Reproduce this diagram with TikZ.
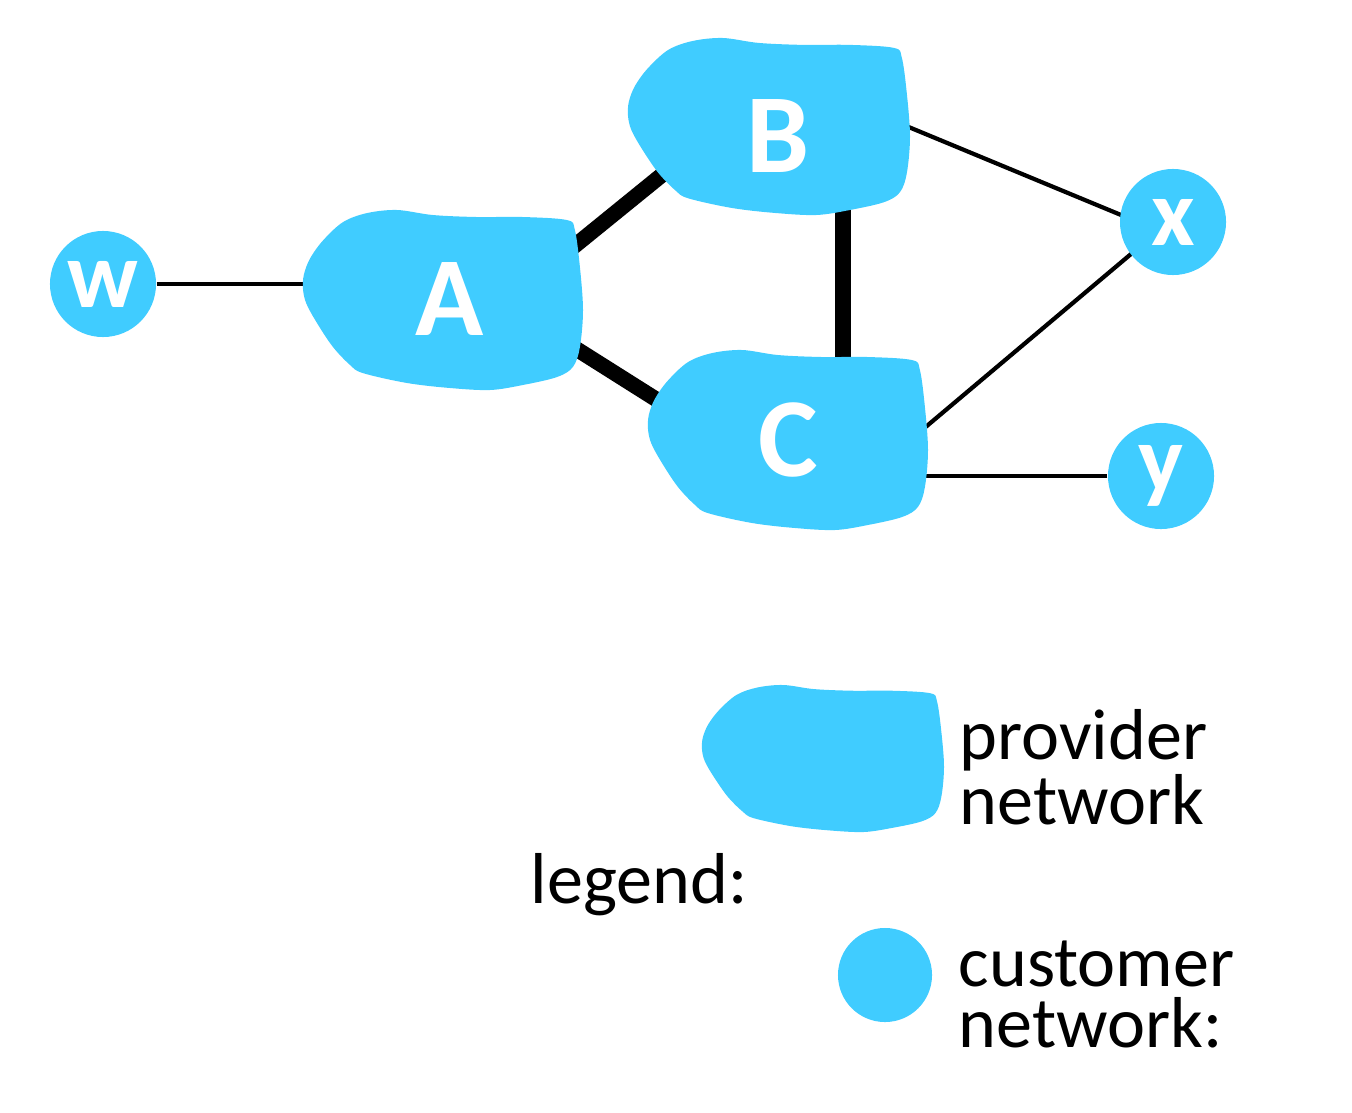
\documentclass[tikz,border=0pt]{standalone}
\usepackage{fontspec}
\setmainfont{Carlito}
\usetikzlibrary{backgrounds}
\definecolor{netblue}{RGB}{64,204,255}

\newcommand{\CloudShape}[4]{%
  \fill[netblue,shift={(#1,#2)},xscale=#3,yscale=#4]
    plot[smooth cycle,tension=0.55] coordinates {
      (0.003,0.36) (0.025,0.27) (0.071,0.17) (0.143,0.067) (0.229,0.017)
      (0.336,0) (0.464,0.028) (0.621,0.039) (0.786,0.039) (0.943,0.056)
      (0.971,0.111) (0.989,0.317) (1,0.556) (0.989,0.761) (0.964,0.872)
      (0.907,0.928) (0.786,0.972) (0.668,1) (0.525,0.989) (0.371,0.961)
      (0.214,0.906) (0.168,0.861) (0.107,0.761) (0.05,0.628) (0.012,0.52)
      (0,0.44)};}

\begin{document}
\begin{tikzpicture}[x=0.01cm,y=-0.01cm]
  \useasboundingbox (0,0) rectangle (1352,1112);
  \tikzset{ProviderStyle/.style = {text         = white,
                                   inner sep    = 0pt,
                                   font         = \bfseries\fontsize{32}{32}\selectfont}}

  \tikzset{CustomerStyle/.style = {shape        = circle,
                                   fill         = netblue,
                                   text         = white,
                                   inner sep    = 0pt,
                                   minimum size = 1.06cm,
                                   font         = \bfseries\fontsize{27}{27}\selectfont}}

  \tikzset{EdgeStyle/.style   = {line width = 1.2pt}}
  \tikzset{TrunkStyle/.style  = {line width = 4.4pt}}
  \tikzset{LegendStyle/.style = {anchor = north west, align = left, inner sep = 0pt,
                                 font = \fontsize{20.5}{17.5}\selectfont}}

     \CloudShape{303}{210}{280}{180}
     \CloudShape{628}{38}{282}{177}
     \CloudShape{648}{350}{280}{180}
     \CloudShape{702}{685}{242}{147}

     \node[ProviderStyle] (P_A) at (450,299) {A};
     \node[ProviderStyle] (P_B) at (778,136) {B};
     \node[ProviderStyle] (P_C) at (788,440) {C};
     \node[CustomerStyle] (C_w) at (103,284) {w};
     \node[CustomerStyle] (C_x) at (1173,222) {x};
     \node[CustomerStyle] (C_y) at (1161,476) {y};
     \node[CustomerStyle,minimum size=0.94cm] (C_leg) at (885,975) {};

     \node[LegendStyle] (T_prov) at (959,709) {provider\\network};
     \node[LegendStyle] (T_leg) at (530,853) {legend:};
     \node[LegendStyle] (T_cust) at (958,940) {customer\\network:};

  \begin{pgfonlayer}{background}
     \draw[EdgeStyle] (C_w) -- (C_w -| P_A);
     \draw[TrunkStyle] ([shift={(90,-25)}]P_A.center) -- ([shift={(-78,8)}]P_B.center);
     \draw[TrunkStyle] ([shift={(90,27)}]P_A.center) -- ([shift={(-88,-13)}]P_C.center);
     \draw[TrunkStyle] ([shift={(65,40)}]P_B.center) -- ([shift={(55,-40)}]P_C.center);
     \draw[EdgeStyle] ([shift={(92,-25)}]P_B.center) -- ([shift={(-23,5)}]C_x.center);
     \draw[EdgeStyle] ([shift={(102,17)}]P_C.center) -- ([shift={(-23,16)}]C_x.center);
     \draw[EdgeStyle] (C_y) -- (C_y -| P_C);
  \end{pgfonlayer}
\end{tikzpicture}
\end{document}
